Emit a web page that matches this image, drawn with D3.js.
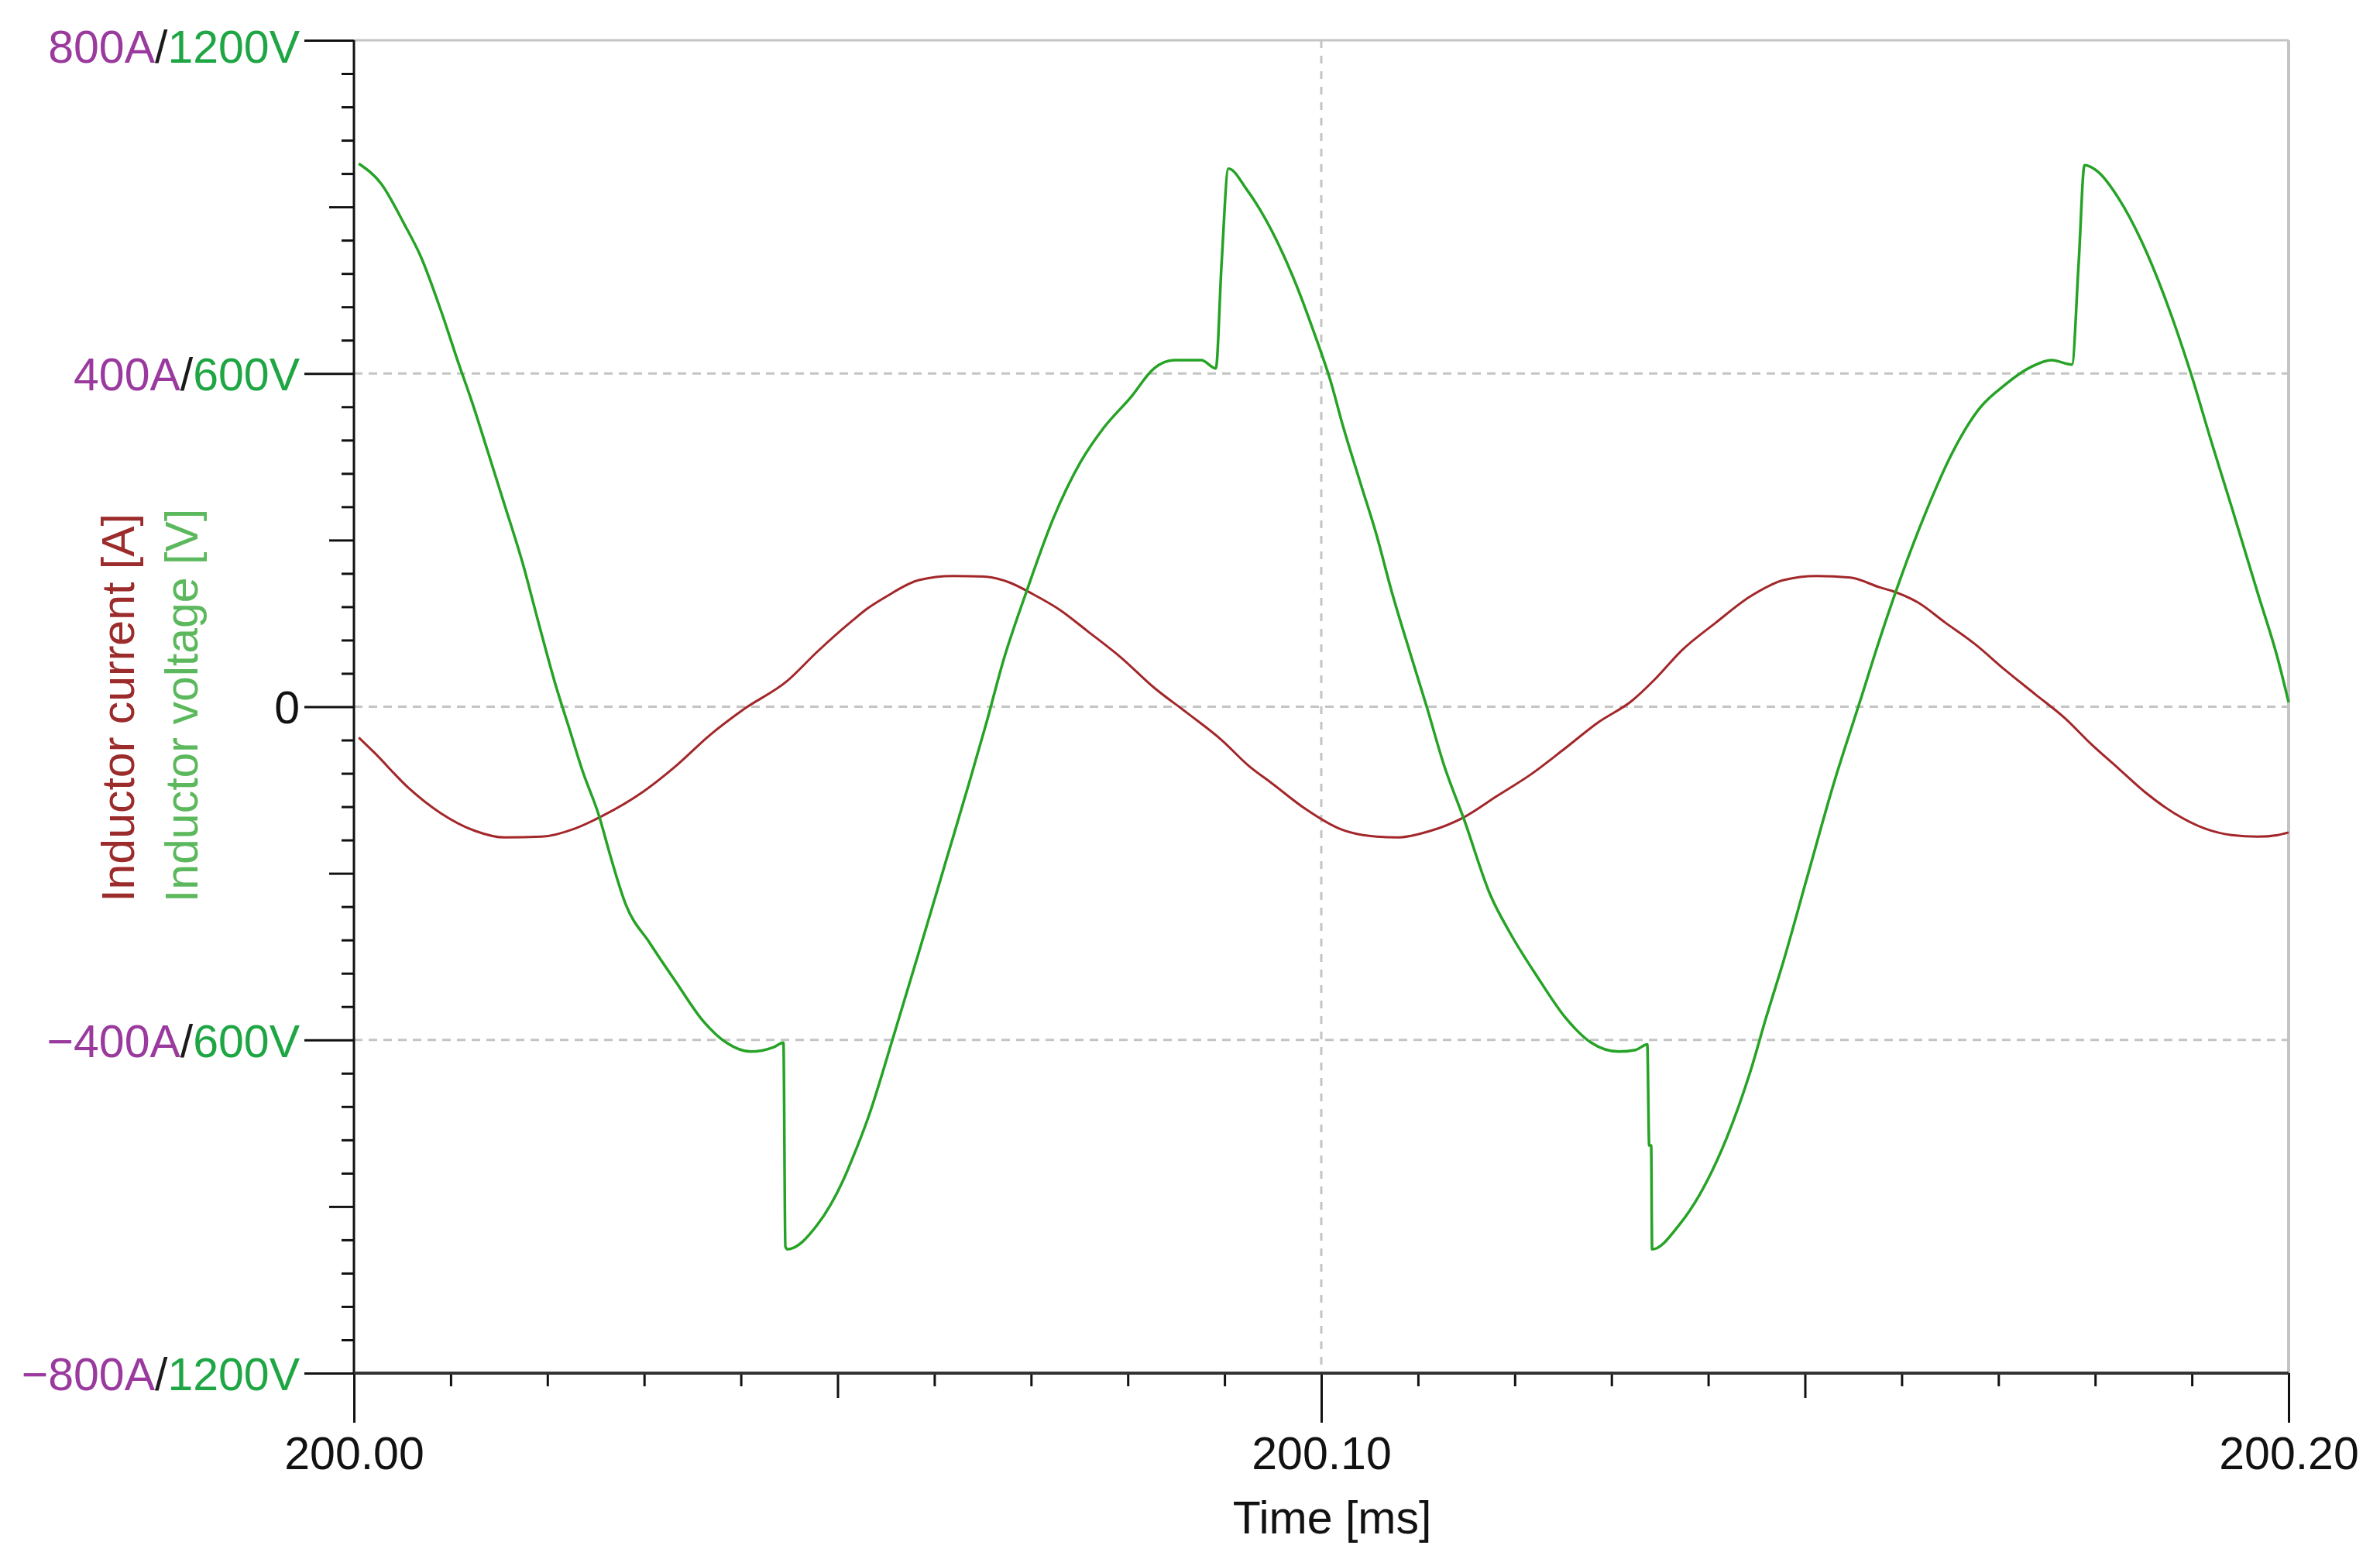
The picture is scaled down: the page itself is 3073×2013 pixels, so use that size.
<!DOCTYPE html>
<html>
<head>
<meta charset="utf-8">
<script src="https://cdn.jsdelivr.net/npm/d3@7"></script>
<style>
  body { margin: 0; background: #fff; }
  text { font-family: "Liberation Sans", Arial, sans-serif; }
</style>
</head>
<body>
<div id="visualization"></div>
<script>
// time [ms], inductor voltage [V]
const voltageTime = [200.0005, 200.0028, 200.0052, 200.0069, 200.0090, 200.0108, 200.0122, 200.0139, 200.0156, 200.0174,
	200.0191, 200.0208, 200.0222, 200.0236, 200.0254, 200.0264, 200.0281, 200.0306, 200.0333, 200.0361,
	200.0385, 200.0410, 200.0434, 200.0444, 200.0446, 200.0448, 200.0479, 200.0507, 200.0515, 200.0532,
	200.0557, 200.0584, 200.0612, 200.0636, 200.0654, 200.0671, 200.0695, 200.0723, 200.0751, 200.0775,
	200.0803, 200.0827, 200.0848, 200.0876, 200.0891, 200.0897, 200.0904, 200.0923, 200.0937, 200.0961,
	200.0979, 200.0990, 200.1001, 200.1009, 200.1022, 200.1041, 200.1057, 200.1073, 200.1092, 200.1109,
	200.1127, 200.1147, 200.1175, 200.1196, 200.1224, 200.1252, 200.1279, 200.1307, 200.1325, 200.1337,
	200.1339, 200.1341, 200.1342, 200.1370, 200.1391, 200.1419, 200.1443, 200.1460, 200.1478, 200.1502,
	200.1530, 200.1557, 200.1577, 200.1600, 200.1624, 200.1652, 200.1679, 200.1707, 200.1734, 200.1755,
	200.1776, 200.1783, 200.1789, 200.1803, 200.1824, 200.1848, 200.1872, 200.1899, 200.1920, 200.1941,
	200.1968, 200.1989, 200.2000];
const voltageValues = [978, 942, 869, 811, 713, 619, 549, 456, 362, 261,
	150, 42, -36, -114, -200, -262, -356, -426, -496, -566,
	-605, -621, -613, -605, -972, -977, -933, -848, -815, -738,
	-598, -442, -278, -137, -28, 81, 206, 339, 440, 502,
	557, 609, 624, 624, 609, 800, 969, 931, 894, 813,
	738, 686, 632, 590, 508, 400, 310, 206, 96, 0,
	-106, -200, -340, -410, -488, -559, -605, -621, -618, -608,
	-790, -790, -977, -933, -879, -777, -660, -559, -457, -309,
	-137, 10, 120, 237, 346, 456, 534, 580, 612, 624,
	616, 800, 975, 963, 916, 838, 737, 600, 478, 360,
	205, 85, 8];

// time [ms], inductor current [A]
const currentTime = [200.0005, 200.0021, 200.0056, 200.0090, 200.0125, 200.0156, 200.0194, 200.0229, 200.0257, 200.0299,
	200.0333, 200.0368, 200.0403, 200.0448, 200.0479, 200.0515, 200.0531, 200.0550, 200.0584, 200.0619,
	200.0654, 200.0678, 200.0702, 200.0730, 200.0758, 200.0793, 200.0827, 200.0862, 200.0897, 200.0925,
	200.0949, 200.0984, 200.1018, 200.1043, 200.1078, 200.1113, 200.1147, 200.1182, 200.1217, 200.1252,
	200.1286, 200.1321, 200.1345, 200.1373, 200.1408, 200.1443, 200.1478, 200.1512, 200.1547, 200.1578,
	200.1590, 200.1617, 200.1645, 200.1676, 200.1707, 200.1738, 200.1769, 200.1796, 200.1824, 200.1851,
	200.1882, 200.1913, 200.1941, 200.1968, 200.1989, 200.2000];
const currentValues = [-37, -55, -97, -128, -149, -157, -156, -146, -131, -102,
	-71, -34, -3, 31, 66, 103, 118, 132, 152, 157,
	156, 149, 135, 116, 91, 59, 23, -8, -40, -71,
	-92, -123, -146, -154, -157, -149, -133, -107, -81, -50,
	-19, 7, 33, 68, 101, 132, 152, 157, 155, 143,
	139, 125, 101, 75, 44, 15, -14, -45, -74, -102,
	-128, -146, -154, -156, -154, -151];

const currentTicks = [-800, -400, 0, 400, 800];
const currentTickLabels = ["−800A", "−400A", "0", "400A", "800A"];
const voltageTickLabels = ["1200V", "600V", "", "600V", "1200V"];
const timeTicks = [200.00, 200.10, 200.20];

const width = 3073, height = 2013;
const plotLeft = 457, plotRight = 2955, plotTop = 52, plotBottom = 1773;
const fontSize = 59;

const svg = d3.select("#visualization").append("svg")
	.attr("width", width)
	.attr("height", height);

const x = d3.scaleLinear().domain([200, 200.2]).range([plotLeft, plotRight]);
const yA = d3.scaleLinear().domain([-800, 800]).range([plotBottom, plotTop]);
const yV = d3.scaleLinear().domain([-1200, 1200]).range([plotBottom, plotTop]);

//frame
svg.append("line").attr("x1", plotLeft).attr("x2", plotRight).attr("y1", plotTop).attr("y2", plotTop)
	.attr("stroke", "#c4c4c4").attr("stroke-width", 3);
svg.append("line").attr("x1", plotRight).attr("x2", plotRight).attr("y1", plotTop).attr("y2", plotBottom)
	.attr("stroke", "#c4c4c4").attr("stroke-width", 4);

//grid
svg.selectAll(".hgrid").data([-400, 0, 400]).enter().append("line")
	.attr("x1", plotLeft).attr("x2", plotRight)
	.attr("y1", d => yA(d)).attr("y2", d => yA(d))
	.attr("stroke", "#c4c4c4").attr("stroke-width", 3).attr("stroke-dasharray", "11,8");
svg.append("line")
	.attr("x1", x(200.1)).attr("x2", x(200.1)).attr("y1", plotTop).attr("y2", plotBottom)
	.attr("stroke", "#c4c4c4").attr("stroke-width", 3).attr("stroke-dasharray", "10,10");

//curves
const voltageData = voltageTime.map((t, i) => [t, voltageValues[i]]);
const currentData = currentTime.map((t, i) => [t, currentValues[i]]);

svg.append("path")
	.datum(currentData)
	.attr("fill", "none")
	.attr("stroke", "#a3272a")
	.attr("stroke-width", 3)
	.attr("stroke-linejoin", "round")
	.attr("d", d3.line().x(d => x(d[0])).y(d => yA(d[1])).curve(d3.curveMonotoneX));

svg.append("path")
	.datum(voltageData)
	.attr("fill", "none")
	.attr("stroke", "#26a326")
	.attr("stroke-width", 3.5)
	.attr("stroke-linejoin", "round")
	.attr("d", d3.line().x(d => x(d[0])).y(d => yV(d[1])).curve(d3.curveMonotoneX));

//y axis: minor, medium, major ticks
const minorY = d3.range(-800, 801, 40).filter(v => v % 200 !== 0);
const mediumY = [-600, -200, 200, 600];

function styleAxis(g) {
	g.select(".domain").remove();
	g.selectAll(".tick line").attr("stroke", "#111").attr("stroke-width", 3);
}

svg.append("g").attr("transform", `translate(${plotLeft},0)`)
	.call(d3.axisLeft(yA).tickValues(minorY).tickSize(16).tickFormat(""))
	.call(styleAxis);
svg.append("g").attr("transform", `translate(${plotLeft},0)`)
	.call(d3.axisLeft(yA).tickValues(mediumY).tickSize(32).tickFormat(""))
	.call(styleAxis);

const yMajor = svg.append("g").attr("transform", `translate(${plotLeft},0)`)
	.call(d3.axisLeft(yA).tickValues(currentTicks).tickSize(64).tickPadding(6).tickFormat(""))
	.call(styleAxis);

yMajor.selectAll(".tick text").each(function(d, i) {
	const t = d3.select(this)
		.attr("font-size", fontSize)
		.attr("font-family", "'Liberation Sans', Arial, sans-serif")
		.attr("dy", d === 800 ? "0.48em" : "0.36em");
	if (voltageTickLabels[i] === "") {
		t.append("tspan").attr("fill", "#111").text(currentTickLabels[i]);
	} else {
		t.append("tspan").attr("fill", "#9a3a9e").text(currentTickLabels[i]);
		t.append("tspan").attr("fill", "#1a1a1a").text("/");
		t.append("tspan").attr("fill", "#1fa644").text(voltageTickLabels[i]);
	}
});

//x axis
const minorX = d3.range(1, 20).map(i => 200 + i * 0.01).filter((v, i) => (i + 1) % 5 !== 0);
const mediumX = [200.05, 200.15];

svg.append("g").attr("transform", `translate(0,${plotBottom})`)
	.call(d3.axisBottom(x).tickValues(minorX).tickSize(17).tickFormat(""))
	.call(styleAxis);
svg.append("g").attr("transform", `translate(0,${plotBottom})`)
	.call(d3.axisBottom(x).tickValues(mediumX).tickSize(32).tickFormat(""))
	.call(styleAxis);
const xMajor = svg.append("g").attr("transform", `translate(0,${plotBottom})`)
	.call(d3.axisBottom(x).tickValues(timeTicks).tickSize(64).tickPadding(18).tickFormat(d3.format(".2f")))
	.call(styleAxis);
xMajor.selectAll(".tick text")
	.attr("font-size", fontSize)
	.attr("font-family", "'Liberation Sans', Arial, sans-serif")
	.attr("fill", "#111");

//axis lines
svg.append("line").attr("x1", plotLeft).attr("x2", plotLeft).attr("y1", plotTop).attr("y2", plotBottom)
	.attr("stroke", "#111").attr("stroke-width", 3);
svg.append("line").attr("x1", plotLeft).attr("x2", plotRight).attr("y1", plotBottom).attr("y2", plotBottom)
	.attr("stroke", "#333").attr("stroke-width", 4);

//titles
svg.append("text")
	.attr("x", 1720)
	.attr("y", 1980)
	.attr("text-anchor", "middle")
	.attr("font-size", fontSize)
	.attr("fill", "#111")
	.text("Time [ms]");

svg.append("text")
	.attr("transform", `translate(173,914) rotate(-90)`)
	.attr("text-anchor", "middle")
	.attr("font-size", fontSize)
	.attr("fill", "#9c2b2b")
	.text("Inductor current [A]");

svg.append("text")
	.attr("transform", `translate(255,911) rotate(-90)`)
	.attr("text-anchor", "middle")
	.attr("font-size", fontSize)
	.attr("fill", "#5cb85c")
	.text("Inductor voltage [V]");
</script>
</body>
</html>
